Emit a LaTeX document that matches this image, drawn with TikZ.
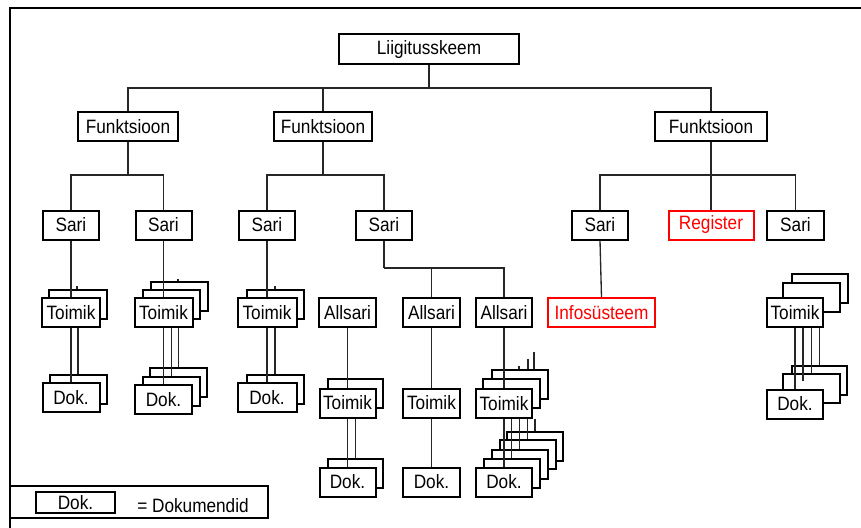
\documentclass[tikz,border=0pt]{standalone}
\usepackage{fontspec}
\setmainfont{Liberation Sans}[FakeStretch=0.89]
\tikzset{
  bx/.style={draw, line width=1.5pt, fill=white, inner sep=0pt, minimum height=21.75pt,
             font=\fontsize{14.5}{16}\selectfont},
  rbx/.style={bx, draw=red, text=red},
  w/.style={minimum width=#1*0.75pt},
  ln/.style={line width=1pt, draw=black!85},
}
\begin{document}
\begin{tikzpicture}[x=0.75pt,y=-0.75pt]
\useasboundingbox (0,0) rectangle (861,528);
% frame
\draw[line width=1.2pt] (861,8) -- (10,8) -- (10,528);

% level 0-2
\node[bx,w=180,minimum height=22.5pt] (root) at (429,49.5) {Liigitusskeem};
\node[bx,w=100] (F1) at (128,127) {Funktsioon};
\node[bx,w=98]  (F2) at (323,127) {Funktsioon};
\node[bx,w=112] (F3) at (711,127) {Funktsioon};

\node[bx,w=56] (S1) at (71,225) {Sari};
\node[bx,w=56] (S2) at (163.5,225) {Sari};
\node[bx,w=56] (S3) at (267,225) {Sari};
\node[bx,w=56] (S4) at (384,225) {Sari};
\node[bx,w=56] (S5) at (600,225) {Sari};
\node[rbx,w=85] (Reg) at (711,225) {Register};
\node[bx,w=57] (S6) at (795.5,225) {Sari};

% level 3
\node[bx,w=58] (T1b) at (78,304) {};
\node[bx,w=58] (T1) at (71,312.5) {Toimik};
\node[bx,w=57] (T2b2) at (179.5,296) {};
\node[bx,w=57] (T2b1) at (171.5,304) {};
\node[bx,w=58] (T2) at (163.5,312.5) {Toimik};
\node[bx,w=57] (T3b) at (275,304) {};
\node[bx,w=59] (T3) at (267,312.5) {Toimik};
\node[bx,w=57] (A1) at (347.5,312.5) {Allsari};
\node[bx,w=57] (A2) at (431.5,312.5) {Allsari};
\node[bx,w=56] (A3) at (504,312.5) {Allsari};
\node[rbx,w=107] (Info) at (601.5,312.5) {Infosüsteem};
\node[bx,w=56] (T8b3) at (819.5,288.5) {};
\node[bx,w=57] (T8b2) at (811.5,297.5) {};
\node[bx,w=56] (T8) at (795,312.5) {Toimik};

% dok row 1
\node[bx,w=57] (D1b) at (78,389) {};
\node[bx,w=57] (D1) at (71,397.5) {Dok.};
\node[bx,w=57] (D2b2) at (178.5,382.5) {};
\node[bx,w=57] (D2b1) at (171.5,391.5) {};
\node[bx,w=57] (D2) at (163.5,399.5) {Dok.};
\node[bx,w=57] (D3b) at (275,389) {};
\node[bx,w=59] (D3) at (267,397.5) {Dok.};
\node[bx,w=55] (D8b3) at (819.5,380.5) {};
\node[bx,w=57] (D8b2) at (811.5,388.5) {};
\node[bx,w=56] (D8) at (795,404) {Dok.};

% level 4
\node[bx,w=55] (T4b) at (355.5,393.5) {};
\node[bx,w=56] (T4) at (347.5,403) {Toimik};
\node[bx,w=57] (T5) at (431.5,403) {Toimik};
\node[bx,w=56] (T6b3) at (520,384.5) {};
\node[bx,w=57] (T6b2) at (511.5,393.5) {};
\node[bx,w=56] (T6) at (504,403.5) {Toimik};

% dok row 2
\node[bx,w=55] (D4b) at (355.5,473.5) {};
\node[bx,w=56] (D4) at (347.5,482) {Dok.};
\node[bx,w=57] (D5) at (431.5,482) {Dok.};
\node[bx,w=56] (D6b4) at (535,446.5) {};
\node[bx,w=56] (D6b3) at (527.5,454.5) {};
\node[bx,w=56] (D6b2) at (519.5,464.5) {};
\node[bx,w=56] (D6b1) at (511.5,473.5) {};
\node[bx,w=56] (D6) at (504,482) {Dok.};

% connectors
\coordinate (b0) at (429,88);
\coordinate (b1) at (128,175);
\coordinate (b2) at (323,175);
\coordinate (b3) at (711,175);
\coordinate (b4) at (384,268);
\draw[ln] (root.south) -- (b0);
\draw[ln] (F1.north) |- (b0);
\draw[ln] (F2.north) |- (b0);
\draw[ln] (F3.north) |- (b0);
\draw[ln] (F1.south) -- (b1);
\draw[ln] (S1.north) |- (b1);
\draw[ln] (S2.north) |- (b1);
\draw[ln] (F2.south) -- (b2);
\draw[ln] (S3.north) |- (b2);
\draw[ln] (S4.north) |- (b2);
\draw[ln] (F3.south) -- (b3);
\draw[ln] (S5.north) |- (b3);
\draw[ln] (Reg.north) -- (b3);
\draw[ln] (S6.north) |- (b3);
\draw[ln] (S4.south) -- (b4);
\draw[ln] (A2.north) |- (b4);
\draw[ln] (A3.north) |- (b4);

\draw[ln] (S1.south) -- (T1.north);
\draw[ln] (S2.south) -- (T2.north);
\draw[ln] (S3.south) -- (T3.north);
\draw[ln] (S5.south) -- (Info.north);
\draw[ln] (A1.south) -- (T4.north);
\draw[ln] (A2.south) -- (T5.north);
\draw[ln] (A3.south) -- (T6.north);

\draw[ln] (T1.south) -- (D1.north);
\draw[ln] (T1.south -| D1b.north) -- (D1b.north);
\draw[ln] (T2.south) -- (D2.north);
\draw[ln] (T2.south -| D2b1.north) -- (D2b1.north);
\draw[ln] (T2.south -| D2b2.north) -- (D2b2.north);
\draw[ln] (T3.south) -- (D3.north);
\draw[ln] (T3.south -| D3b.north) -- (D3b.north);
\draw[ln] (T4.south) -- (D4.north);
\draw[ln] (T4.south -| D4b.north) -- (D4b.north);
\draw[ln] (T5.south) -- (D5.north);
\draw[ln] (T6.south) -- (D6.north);
\draw[ln] (T6.south -| D6b1.north) -- (D6b1.north);
\draw[ln] (T6.south -| D6b2.north) -- (D6b2.north);
\draw[ln] (T6.south -| D6b3.north) -- (D6b3.north);
\draw[ln] (T6.south -| D6b4.north) -- (D6b4.north);
\coordinate (c8) at (803,381);
\draw[ln] (T8.south) -- (D8.north);
\draw[ln] (T8.south -| c8) -- (c8);
\draw[ln] (T8.south -| D8b2.north) -- (D8b2.north);
\draw[ln] (T8.south -| D8b3.north) -- (D8b3.north);

% small stubs
\coordinate (s1) at (519,366);
\coordinate (s2) at (528,359);
\coordinate (s3) at (534,352);
\coordinate (s4) at (77,286);
\coordinate (s5) at (275,286);
\coordinate (s6) at (178,279);
\draw[ln] (s1) -- (s1 |- T6b3.north);
\draw[ln] (s2) -- (s2 |- T6b3.north);
\draw[ln] (s3) -- (s3 |- T6b3.north);
\draw[ln] (s4) -- (s4 |- T1b.north);
\draw[ln] (s5) -- (s5 |- T3b.north);
\draw[ln] (s6) -- (s6 |- T2b2.north);

% legend
\draw[line width=0.8pt] (10,486) rectangle (268,518);
\node[bx,w=79,minimum height=15.75pt] (LD) at (75.5,502.5) {Dok.};
\node[font=\fontsize{14.5}{16}\selectfont, inner sep=0pt] (LT) at (193,506) {= Dokumendid};
\end{tikzpicture}
\end{document}
